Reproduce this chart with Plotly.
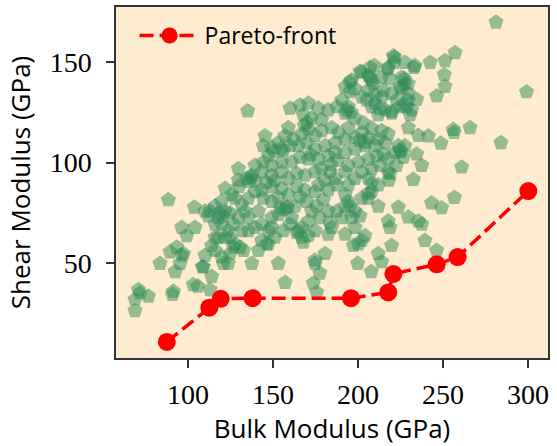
import plotly.graph_objects as go

# Candidate materials: bulk modulus (GPa) and shear modulus (GPa)
bulk_modulus = [
    281.2, 299.2, 284.1, 265.9, 256.1, 256.5, 261.0, 256.7, 257.1, 251.2,
    250.8, 251.2, 246.3, 242.5, 232.9, 227.6, 220.8, 221.5, 221.4, 209.6,
    201.2, 217.5, 218.8, 208.0, 206.1, 227.3, 229.6, 225.7, 234.5, 229.6,
    231.6, 226.7, 219.8, 213.9, 210.0, 215.9, 235.5, 241.4, 248.8, 229.6,
    227.6, 234.5, 237.5, 232.5, 225.3, 226.7, 218.2, 218.8, 206.1, 208.0,
    206.1, 211.9, 223.7, 229.6, 235.5, 237.5, 239.4, 246.3, 243.3, 249.2,
    233.5, 196.3, 217.8, 218.8, 219.8, 211.9, 213.9, 207.8, 199.8, 200.2,
    202.2, 204.1, 198.2, 196.3, 201.2, 198.2, 192.4, 195.3, 194.3, 192.4,
    187.5, 184.5, 183.5, 182.5, 180.6, 174.7, 174.7, 177.6, 175.7, 173.7,
    157.1, 153.1, 172.7, 169.8, 175.7, 179.6, 174.7, 168.8, 170.8, 166.9,
    164.9, 166.9, 160.0, 165.9, 162.9, 158.0, 154.1, 153.1, 149.2, 143.3,
    144.3, 141.4, 149.2, 147.3, 143.3, 139.4, 135.5, 137.5, 127.6, 130.6,
    123.7, 124.7, 120.8, 119.8, 137.5, 139.4, 134.5, 129.6, 125.7, 135.1,
    129.6, 121.8, 124.7, 119.8, 121.8, 117.8, 112.9, 115.9, 113.9, 112.9,
    113.9, 110.0, 109.0, 105.7, 103.1, 103.7, 104.1, 96.3, 99.2, 93.3,
    97.3, 95.3, 92.4, 89.4, 90.8, 91.4, 83.5, 88.4, 76.7, 68.8,
    68.8, 70.8, 71.8, 160.0, 165.9, 170.8, 176.7, 167.8, 172.7, 178.6,
    182.5, 187.5, 190.4, 192.4, 194.3, 195.3, 192.4, 195.3, 198.2, 202.2,
    205.1, 206.1, 210.0, 208.0, 212.9, 211.9, 198.2, 203.1, 194.3, 188.4,
    184.5, 178.6, 174.7, 170.8, 166.9, 159.0, 162.0, 157.1, 153.1, 145.3,
    144.3, 149.2, 147.3, 156.1, 160.0, 164.9, 169.8, 174.7, 180.6, 186.5,
    192.4, 198.2, 202.2, 206.1, 211.9, 215.9, 210.0, 204.1, 198.2, 192.4,
    186.5, 182.5, 176.7, 170.8, 165.9, 161.0, 155.1, 149.2, 144.3, 139.4,
    143.3, 149.2, 155.1, 159.0, 163.9, 168.8, 174.7, 178.6, 183.5, 180.6,
    186.5, 192.4, 194.3, 200.2, 206.1, 211.0, 214.9, 217.8, 212.9, 208.0,
    202.2, 198.2, 194.3, 182.5, 176.7, 163.9, 159.0, 155.1, 149.2, 139.4,
    135.5, 131.6, 127.6, 133.5, 129.6, 135.5, 126.7, 131.6, 123.7, 119.8,
    115.9, 112.0, 110.0, 115.9, 117.8, 121.8, 124.7, 115.9, 126.7, 132.6,
    141.4, 146.3, 151.2, 156.1, 147.3, 143.3, 149.2, 153.1, 161.0, 170.8,
    174.7, 177.6, 182.5, 187.5, 190.4, 192.4, 197.3, 221.8, 223.7, 222.7,
    217.8, 211.9, 208.0, 206.1, 202.2, 219.8, 224.7, 229.6, 224.7, 222.7,
    224.7, 228.6, 230.6, 219.8, 214.9, 213.9, 217.8, 225.7, 227.6, 207.1,
    209.0, 207.1, 202.2, 208.0, 213.9, 217.8, 167.8, 163.9, 137.0, 135.5,
    120.5, 118.5, 158.5, 156.0, 170.0, 168.5, 193.5, 196.0, 204.0, 201.0,
    150.5, 155.0, 172.0, 184.0, 188.0, 146.0, 130.0, 151.0, 96.3, 108.4,
]
shear_modulus = [
    169.9, 135.2, 109.9, 117.3, 116.4, 115.0, 97.7, 82.6, 154.7, 150.7,
    143.8, 137.9, 133.1, 149.8, 147.4, 149.8, 153.1, 152.5, 149.8, 148.2,
    145.4, 146.6, 141.7, 140.9, 143.3, 141.7, 139.3, 136.8, 131.4, 131.1,
    126.2, 128.7, 125.4, 132.7, 129.5, 126.2, 113.5, 113.2, 109.6, 117.3,
    108.3, 104.2, 98.5, 91.5, 105.4, 102.6, 91.2, 94.5, 84.7, 89.6,
    92.0, 78.2, 77.7, 72.8, 70.8, 69.2, 61.1, 56.2, 79.8, 77.4,
    148.2, 141.0, 70.8, 67.6, 58.6, 54.6, 50.5, 45.6, 49.7, 59.4,
    61.1, 63.5, 67.6, 72.5, 73.3, 75.7, 78.2, 78.2, 80.6, 83.9,
    88.8, 67.6, 70.0, 64.3, 54.6, 51.3, 49.7, 44.8, 35.3, 39.9,
    40.2, 49.7, 75.7, 80.6, 78.2, 81.4, 85.5, 86.3, 63.5, 62.7,
    66.0, 67.6, 69.2, 83.1, 78.2, 77.4, 77.4, 82.6, 80.6, 86.3,
    82.2, 75.7, 67.6, 59.4, 61.1, 67.6, 66.0, 49.7, 59.4, 57.8,
    49.7, 54.6, 49.7, 52.9, 93.6, 91.2, 92.0, 91.2, 83.9, 125.7,
    96.9, 87.1, 74.9, 80.6, 75.7, 72.5, 75.7, 62.7, 58.6, 36.6,
    43.2, 53.7, 48.0, 38.3, 39.1, 77.7, 67.6, 67.6, 63.5, 57.8,
    54.6, 49.7, 45.6, 55.4, 34.2, 35.8, 49.7, 81.4, 33.4, 26.1,
    31.8, 36.6, 35.0, 127.0, 128.7, 129.5, 127.0, 123.8, 122.1, 121.3,
    126.2, 127.8, 131.1, 124.6, 127.8, 135.2, 137.6, 140.1, 136.8, 132.7,
    131.1, 136.0, 133.6, 127.8, 127.0, 123.8, 122.1, 119.7, 117.3, 114.9,
    117.3, 115.8, 113.4, 116.6, 114.2, 117.3, 111.6, 113.2, 109.9, 113.2,
    108.3, 107.5, 103.4, 105.9, 108.3, 108.3, 109.9, 106.7, 108.3, 109.9,
    111.6, 112.4, 114.9, 112.4, 111.6, 109.9, 108.3, 108.3, 106.7, 105.0,
    105.0, 103.4, 101.8, 101.8, 102.6, 100.2, 100.2, 98.5, 100.2, 98.5,
    95.3, 93.6, 95.3, 92.0, 94.5, 93.6, 95.3, 96.9, 95.3, 91.2,
    92.0, 95.3, 98.5, 100.2, 101.8, 103.4, 104.2, 101.8, 98.5, 96.9,
    95.3, 92.0, 88.8, 86.3, 88.8, 88.1, 83.9, 87.1, 87.9, 85.5,
    82.2, 79.0, 82.2, 75.7, 72.5, 72.5, 69.2, 66.0, 66.0, 69.2,
    69.2, 73.3, 75.7, 78.2, 62.7, 62.7, 62.7, 56.2, 57.8, 56.2,
    56.2, 59.4, 62.7, 66.0, 66.0, 69.2, 72.5, 74.1, 72.5, 70.8,
    66.0, 72.5, 75.7, 75.7, 72.5, 64.3, 58.6, 105.0, 108.3, 98.5,
    95.3, 88.8, 85.5, 82.2, 82.2, 134.4, 137.6, 134.4, 105.9, 131.1,
    127.8, 127.8, 123.8, 124.6, 136.0, 142.5, 147.4, 142.5, 139.3, 142.5,
    139.3, 147.4, 145.0, 117.1, 115.8, 114.2, 60.3, 65.1, 92.5, 90.5,
    73.5, 75.0, 78.0, 76.5, 120.0, 118.5, 126.0, 125.0, 110.0, 111.0,
    105.5, 107.0, 104.0, 99.0, 101.0, 90.0, 88.0, 91.0, 53.8, 48.0,
]

# Non-dominated (minimum shear for a given bulk) set
pareto_bulk = [87.5, 112.5, 119.2, 138.0, 195.9, 217.8, 220.8, 246.3, 258.6, 300.2]
pareto_shear = [10.6, 27.7, 32.1, 32.4, 32.4, 35.3, 44.5, 49.3, 52.9, 85.8]

x_ticks = [100, 150, 200, 250, 300]
y_ticks = [50, 100, 150]

tick_font = dict(family="Liberation Serif", size=28, color="black")
label_font = dict(family="Open Sans", size=26, color="black")

fig = go.Figure()

fig.add_trace(go.Scatter(
    x=bulk_modulus, y=shear_modulus,
    mode="markers",
    marker=dict(symbol="pentagon", size=16, color="seagreen", opacity=0.5,
                line=dict(width=0)),
    showlegend=False,
    hoverinfo="x+y",
))

fig.add_trace(go.Scatter(
    x=pareto_bulk, y=pareto_shear,
    mode="lines+markers",
    name="Pareto-front",
    line=dict(color="red", width=3.5, dash="14px,6px"),
    marker=dict(symbol="circle", size=18, color="red", line=dict(width=0)),
))

axis_common = dict(
    showgrid=False, zeroline=False,
    showline=True, mirror=True, linecolor="#333333", linewidth=1.5,
    ticks="outside", ticklen=8, tickwidth=1.8, tickcolor="#333333",
    tickfont=tick_font,
)

fig.update_xaxes(
    range=[57.6, 311.8], tickvals=x_ticks, ticktext=[str(v) for v in x_ticks],
    title=dict(text="Bulk Modulus (GPa)", font=label_font, standoff=12),
    ticklabelstandoff=3,
    **axis_common,
)
fig.update_yaxes(
    range=[2.6, 177.5], tickvals=y_ticks, ticktext=[str(v) for v in y_ticks],
    title=dict(text="Shear Modulus (GPa)", font=label_font, standoff=12),
    ticklabelstandoff=9,
    **axis_common,
)

fig.update_layout(
    width=557, height=446,
    margin=dict(l=116, r=9, t=5, b=83),
    paper_bgcolor="white",
    plot_bgcolor="#FFEBCF",
    legend=dict(
        x=0.043, y=0.98, xanchor="left", yanchor="top",
        bgcolor="rgba(0,0,0,0)", borderwidth=0,
        font=dict(family="Open Sans", size=23, color="black"),
        itemwidth=60,
    ),
)

fig.write_html("out.html")
